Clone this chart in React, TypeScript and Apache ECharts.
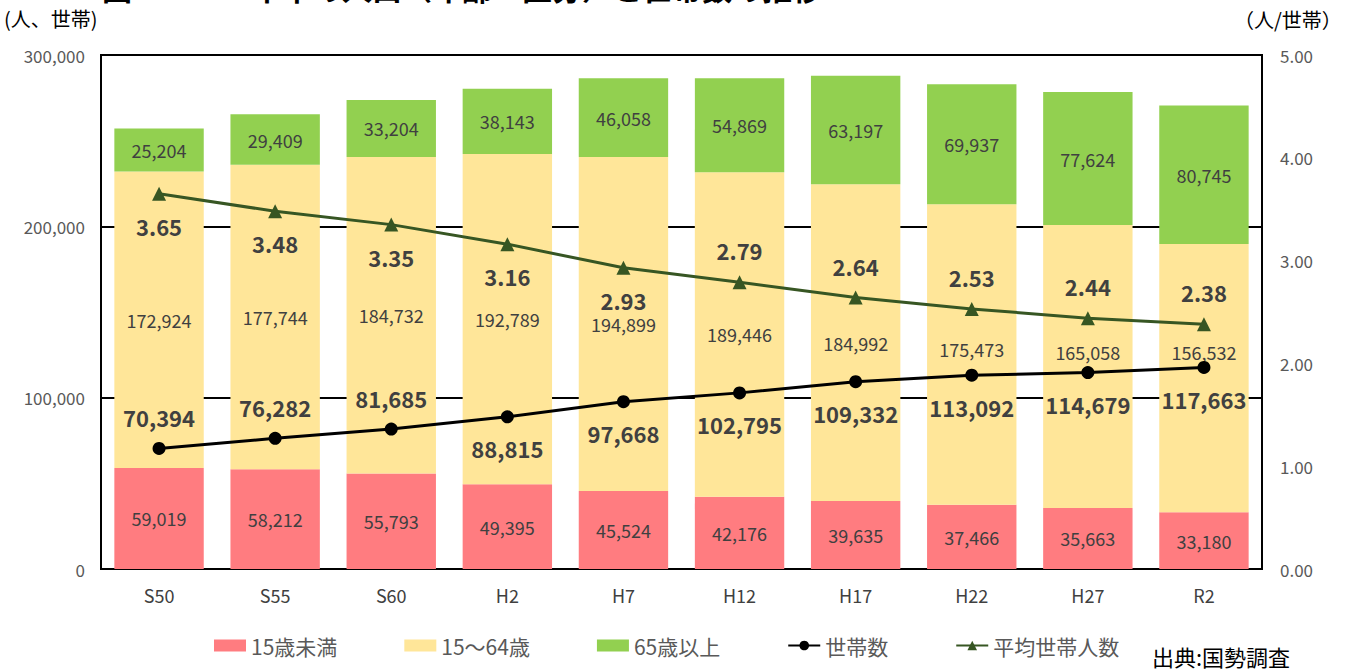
import React, { useEffect, useRef } from "react";
import * as echarts from "echarts";

const categories = ["S50", "S55", "S60", "H2", "H7", "H12", "H17", "H22", "H27", "R2"];
const under15 = [59019, 58212, 55793, 49395, 45524, 42176, 39635, 37466, 35663, 33180];
const age15to64 = [172924, 177744, 184732, 192789, 194899, 189446, 184992, 175473, 165058, 156532];
const over65 = [25204, 29409, 33204, 38143, 46058, 54869, 63197, 69937, 77624, 80745];
const households = [70394, 76282, 81685, 88815, 97668, 102795, 109332, 113092, 114679, 117663];
const avgPerHousehold = [3.65, 3.48, 3.35, 3.16, 2.93, 2.79, 2.64, 2.53, 2.44, 2.38];
const leftTicks = [0, 100000, 200000, 300000];
const rightTicks = [0, 1, 2, 3, 4, 5];

const householdLabelSide = ["top", "top", "top", "bottom", "bottom", "bottom", "bottom", "bottom", "bottom", "bottom"];
const avgLabelSide = ["bottom", "bottom", "bottom", "bottom", "bottom", "top", "top", "top", "top", "top"];
const midLabelShift = [0, 0, 0, 0, 0, 0, 0, -5, -14, -26];

const FONT = "'Noto Sans CJK JP', 'Noto Sans', sans-serif";
const fmt = (v: number) => v.toLocaleString("en-US");

export default function App() {
  const ref = useRef<HTMLDivElement>(null);
  useEffect(() => {
    if (!ref.current) return;
    const chart = echarts.init(ref.current, null, { renderer: "svg" });
    const barLabel = {
      show: true,
      position: "inside",
      color: "#404040",
      fontSize: 18,
      fontFamily: FONT,
      formatter: (p: any) => fmt(p.value),
    };
    chart.setOption({
      animation: false,
      textStyle: { fontFamily: FONT },
      grid: {
        left: 101,
        right: 89,
        top: 55,
        bottom: 101,
        show: true,
        borderColor: "#000",
        borderWidth: 2,
        backgroundColor: "transparent",
      },
      legend: {
        bottom: 9,
        left: 209,
        itemGap: 67,
        itemWidth: 32,
        itemHeight: 12,
        textStyle: { fontSize: 21, color: "#595959", fontFamily: FONT },
        data: [
          { name: "15歳未満", icon: "rect" },
          { name: "15～64歳", icon: "rect" },
          { name: "65歳以上", icon: "rect" },
          { name: "世帯数" },
          { name: "平均世帯人数" },
        ],
      },
      graphic: [
        {
          type: "text",
          left: 102,
          top: -28,
          style: { text: "図２－１　本市の人口（年齢３区分）と世帯数の推移", fontSize: 30, fontWeight: "bold", fill: "#000", fontFamily: FONT },
        },
        {
          type: "text",
          left: 4,
          top: 8,
          style: { text: "(人、世帯)", fontSize: 20, fill: "#000", fontFamily: FONT },
        },
        {
          type: "text",
          left: 1234,
          top: 9,
          style: { text: "（人/世帯）", fontSize: 20, fill: "#000", fontFamily: FONT },
        },
        {
          type: "text",
          left: 1152,
          top: 645,
          style: { text: "出典:国勢調査", fontSize: 22, fill: "#000", fontFamily: FONT },
        },
      ],
      xAxis: {
        type: "category",
        data: categories,
        axisLine: { lineStyle: { color: "#000", width: 2 } },
        axisTick: { show: false },
        axisLabel: { color: "#404040", fontSize: 18, margin: 17, fontFamily: FONT },
      },
      yAxis: [
        {
          type: "value",
          min: leftTicks[0],
          max: leftTicks[leftTicks.length - 1],
          interval: leftTicks[1] - leftTicks[0],
          axisLine: { show: true, lineStyle: { color: "#000", width: 2 } },
          axisTick: { show: false },
          splitLine: { lineStyle: { color: "#000", width: 2 } },
          axisLabel: { color: "#595959", fontSize: 17, margin: 16, formatter: (v: number) => fmt(v), fontFamily: FONT },
        },
        {
          type: "value",
          min: rightTicks[0],
          max: rightTicks[rightTicks.length - 1],
          interval: rightTicks[1] - rightTicks[0],
          axisLine: { show: true, lineStyle: { color: "#000", width: 2 } },
          axisTick: { show: false },
          splitLine: { show: false },
          axisLabel: { color: "#595959", fontSize: 17, margin: 18, formatter: (v: number) => v.toFixed(2), fontFamily: FONT },
        },
      ],
      series: [
        {
          name: "15歳未満",
          type: "bar",
          stack: "pop",
          barWidth: "77%",
          data: under15,
          itemStyle: { color: "#FF7C80" },
          label: barLabel,
        },
        {
          name: "15～64歳",
          type: "bar",
          stack: "pop",
          data: age15to64.map((v, i) => ({
            value: v,
            label: { offset: [0, midLabelShift[i]] },
          })),
          itemStyle: { color: "#FFE699" },
          label: barLabel,
        },
        {
          name: "65歳以上",
          type: "bar",
          stack: "pop",
          data: over65,
          itemStyle: { color: "#92D050" },
          label: barLabel,
        },
        {
          name: "世帯数",
          type: "line",
          symbol: "circle",
          symbolSize: 13,
          z: 5,
          lineStyle: { color: "#000", width: 3 },
          itemStyle: { color: "#000" },
          data: households.map((v, i) => ({
            value: v,
            label: { position: householdLabelSide[i] },
          })),
          label: {
            show: true,
            distance: 14,
            color: "#404040",
            fontSize: 22,
            fontWeight: "bold",
            fontFamily: FONT,
            formatter: (p: any) => fmt(p.value),
          },
        },
        {
          name: "平均世帯人数",
          type: "line",
          yAxisIndex: 1,
          symbol: "triangle",
          symbolSize: 14,
          z: 5,
          lineStyle: { color: "#375623", width: 3 },
          itemStyle: { color: "#375623" },
          data: avgPerHousehold.map((v, i) => ({
            value: v,
            label: { position: avgLabelSide[i] },
          })),
          label: {
            show: true,
            distance: 14,
            color: "#404040",
            fontSize: 22,
            fontWeight: "bold",
            fontFamily: FONT,
            formatter: (p: any) => p.value.toFixed(2),
          },
        },
      ],
    });
    return () => chart.dispose();
  }, []);
  return (
    <div
      ref={ref}
      style={{ position: "fixed", left: 0, top: 0, width: 1351, height: 670, background: "#fff" }}
    />
  );
}
